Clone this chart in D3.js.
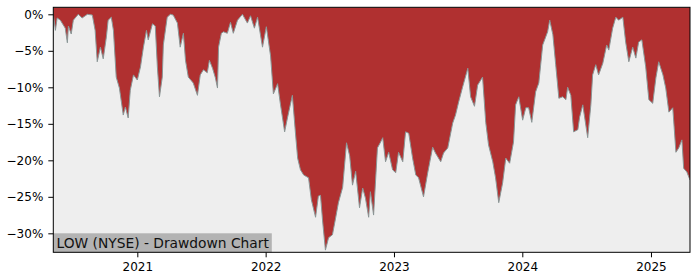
<!DOCTYPE html>
<html>
<head>
<meta charset="utf-8">
<script src="https://cdn.jsdelivr.net/npm/d3@7"></script>
<style>
  body { margin: 0; background: #fff; }
  svg { display: block; font-family: "DejaVu Sans", sans-serif; }
</style>
</head>
<body>
<svg id="chart" width="700" height="280"></svg>
<script>
// drawdown of LOW
const dates = [
  "2020-05-07","2020-05-13","2020-05-18","2020-05-27","2020-06-01","2020-06-10","2020-06-16","2020-06-19",
  "2020-06-27","2020-07-03","2020-07-17","2020-07-28","2020-08-12","2020-08-26","2020-09-03","2020-09-09",
  "2020-09-18","2020-09-26","2020-10-05","2020-10-10","2020-10-19","2020-10-25","2020-11-02","2020-11-11",
  "2020-11-22","2020-11-28","2020-12-06","2020-12-12","2020-12-21","2021-01-01","2021-01-10","2021-01-18",
  "2021-01-27","2021-02-01","2021-02-13","2021-02-21","2021-02-27","2021-03-05","2021-03-13","2021-03-16",
  "2021-03-27","2021-04-05","2021-04-13","2021-04-25","2021-05-03","2021-05-12","2021-05-18","2021-05-26",
  "2021-06-09","2021-06-21","2021-06-29","2021-07-08","2021-07-19","2021-07-25","2021-08-03","2021-08-11",
  "2021-08-17","2021-08-20","2021-08-28","2021-09-03","2021-09-14","2021-09-23","2021-10-01","2021-10-13",
  "2021-10-27","2021-11-10","2021-11-19","2021-11-30","2021-12-09","2021-12-23","2022-01-03","2022-01-15",
  "2022-01-23","2022-02-04","2022-02-12","2022-02-24","2022-03-04","2022-03-18","2022-03-27","2022-04-02",
  "2022-04-10","2022-04-19","2022-05-03","2022-05-11","2022-05-23","2022-05-31","2022-06-06","2022-06-12",
  "2022-06-20","2022-06-29","2022-07-10","2022-07-19","2022-07-27","2022-08-08","2022-08-19","2022-08-28",
  "2022-09-05","2022-09-14","2022-09-25","2022-10-04","2022-10-12","2022-10-21","2022-10-26","2022-11-04",
  "2022-11-15","2022-11-24","2022-11-30","2022-12-08","2022-12-17","2022-12-28","2023-01-06","2023-01-14",
  "2023-01-26","2023-02-03","2023-02-12","2023-02-23","2023-03-04","2023-03-12","2023-03-26","2023-04-07",
  "2023-04-21","2023-04-29","2023-05-14","2023-05-22","2023-06-03","2023-06-17","2023-06-25","2023-07-04",
  "2023-07-15","2023-07-30","2023-08-07","2023-08-18","2023-08-27","2023-09-10","2023-09-19","2023-09-27",
  "2023-10-09","2023-10-17","2023-10-26","2023-11-06","2023-11-15","2023-11-26","2023-12-07","2023-12-13",
  "2023-12-22","2024-01-02","2024-01-11","2024-01-19","2024-01-28","2024-02-08","2024-02-17","2024-02-28",
  "2024-03-13","2024-03-19","2024-03-28","2024-04-05","2024-04-14","2024-04-25","2024-05-04","2024-05-09",
  "2024-05-18","2024-05-26","2024-06-07","2024-06-12","2024-06-21","2024-07-05","2024-07-14","2024-07-19",
  "2024-07-28","2024-08-05","2024-08-17","2024-08-28","2024-09-03","2024-09-14","2024-09-23","2024-10-01",
  "2024-10-13","2024-10-21","2024-10-30","2024-11-10","2024-11-19","2024-11-27","2024-12-06","2024-12-17",
  "2024-12-26","2025-01-06","2025-01-15","2025-01-23","2025-02-04","2025-02-12","2025-02-21","2025-03-04",
  "2025-03-13","2025-03-21","2025-03-30","2025-04-04","2025-04-13","2025-04-22"
];
const drawdown = [
  0, -2.2, -0.5, -0.8, -1.2, -1.9, -3.9, -1.6,
  -2.7, -0.8, 0, -0.5, 0, -0.1, -2.2, -6.5,
  -4.5, -6.1, -3.1, -0.8, -0.4, -2.2, -8.6, -10.1,
  -13.8, -12.7, -14.2, -10.4, -8.3, -9.0, -7.2, -4.6,
  -2.2, -3.5, -1.3, -1.6, -7.2, -11.3, -8.6, -4.2,
  -0.4, 0, -0.1, -1.2, -4.5, -2.6, -6.3, -8.6,
  -9.4, -11.1, -8.3, -7.6, -8.0, -6.3, -7.4, -8.7,
  -10.1, -4.5, -2.6, -2.4, -2.6, -1.1, -2.6, -0.8,
  0, -1.2, -0.2, -1.9, -0.4, -4.5, -1.7, -5.7,
  -10.9, -9.5, -12.3, -16.1, -14.2, -11.1, -16.4, -19.7,
  -21.3, -22.0, -22.4, -25.4, -27.8, -24.9, -24.8, -28.3,
  -32.3, -30.6, -30.2, -27.9, -25.8, -23.7, -17.6, -19.4,
  -23.4, -21.5, -26.5, -23.8, -25.2, -27.8, -24.3, -27.5,
  -18.3, -17.5, -16.9, -20.2, -18.9, -21.3, -21.7, -18.9,
  -20.2, -16.1, -16.3, -19.7, -22.0, -22.4, -25.0, -21.7,
  -18.2, -19.0, -20.2, -19.0, -18.3, -14.9, -13.8, -12.0,
  -10.0, -7.4, -11.3, -12.6, -9.7, -8.6, -14.8, -17.9,
  -20.2, -22.4, -25.8, -23.1, -19.7, -20.4, -17.5, -12.4,
  -11.3, -14.5, -12.8, -12.8, -14.8, -10.6, -9.4, -4.2,
  -2.4, -0.8, -2.8, -6.9, -11.5, -11.3, -11.7, -10.0,
  -11.1, -16.1, -15.8, -14.1, -12.4, -16.9, -12.4, -8.3,
  -6.9, -8.3, -6.7, -4.2, -4.9, -1.9, -0.4, -0.8,
  -0.4, -3.8, -6.5, -4.5, -6.0, -3.8, -3.5, -7.2,
  -11.7, -12.2, -8.7, -6.5, -8.3, -10.1, -13.4, -12.8,
  -18.9, -18.3, -17.2, -21.1, -21.6, -22.7
];
const yTicks = [0, -5, -10, -15, -20, -25, -30];
const xTickYears = [2021, 2022, 2023, 2024, 2025];
const chartLabel = "LOW (NYSE) - Drawdown Chart";

const svg = d3.select('#chart');
const plot = { left: 53.3, right: 690, top: 7.3, bottom: 252.3 };

const parse = d3.timeParse('%Y-%m-%d');
const data = dates.map((d, i) => ({ date: parse(d), value: drawdown[i] }));

const xScale = d3.scaleTime()
  .domain(d3.extent(data, d => d.date))
  .range([plot.left, plot.right]);

const yScale = d3.scaleLinear()
  .domain([-32.6, 0.96])
  .range([plot.bottom, plot.top]);

// plot background
svg.append('rect')
  .attr('x', plot.left).attr('y', plot.top)
  .attr('width', plot.right - plot.left)
  .attr('height', plot.bottom - plot.top)
  .attr('fill', '#eeeeee');

svg.append('clipPath').attr('id', 'clip')
  .append('rect')
  .attr('x', plot.left).attr('y', plot.top)
  .attr('width', plot.right - plot.left)
  .attr('height', plot.bottom - plot.top);

const g = svg.append('g').attr('clip-path', 'url(#clip)');

const area = d3.area()
  .x(d => xScale(d.date))
  .y0(plot.top)
  .y1(d => yScale(d.value));

g.append('path')
  .datum(data)
  .attr('d', area)
  .attr('fill', '#b03030');

const line = d3.line()
  .x(d => xScale(d.date))
  .y(d => yScale(d.value));

g.append('path')
  .datum(data)
  .attr('d', line)
  .attr('fill', 'none')
  .attr('stroke', '#8a9696')
  .attr('stroke-width', 1);

// label box in the lower left corner
const labelG = svg.append('g');
labelG.append('rect')
  .attr('x', plot.left).attr('y', 233.3)
  .attr('width', 218.5).attr('height', plot.bottom - 233.3)
  .attr('fill', '#b3b3b3');
labelG.append('text')
  .attr('x', 56.5).attr('y', 247.5)
  .attr('font-size', 13.8)
  .attr('fill', '#111')
  .text(chartLabel);

// axes
const fmt = d => (d < 0 ? '\u2212' + Math.abs(d) : d) + '%';
const yAxis = d3.axisLeft(yScale)
  .tickValues(yTicks)
  .tickFormat(fmt)
  .tickSize(5)
  .tickPadding(5);

const xAxis = d3.axisBottom(xScale)
  .tickValues(xTickYears.map(y => new Date(y, 0, 1)))
  .tickFormat(d3.timeFormat('%Y'))
  .tickSize(5)
  .tickPadding(5);

const yG = svg.append('g')
  .attr('transform', `translate(${plot.left},0)`)
  .call(yAxis);
const xG = svg.append('g')
  .attr('transform', `translate(0,${plot.bottom})`)
  .call(xAxis);

[yG, xG].forEach(a => {
  a.select('.domain').remove();
  a.selectAll('text')
    .attr('font-size', 12)
    .attr('font-family', '"DejaVu Sans", sans-serif')
    .attr('fill', '#000');
  a.selectAll('line').attr('stroke', '#000');
});

// frame
svg.append('rect')
  .attr('x', plot.left).attr('y', plot.top)
  .attr('width', plot.right - plot.left)
  .attr('height', plot.bottom - plot.top)
  .attr('fill', 'none')
  .attr('stroke', '#000')
  .attr('stroke-width', 1);
</script>
</body>
</html>
